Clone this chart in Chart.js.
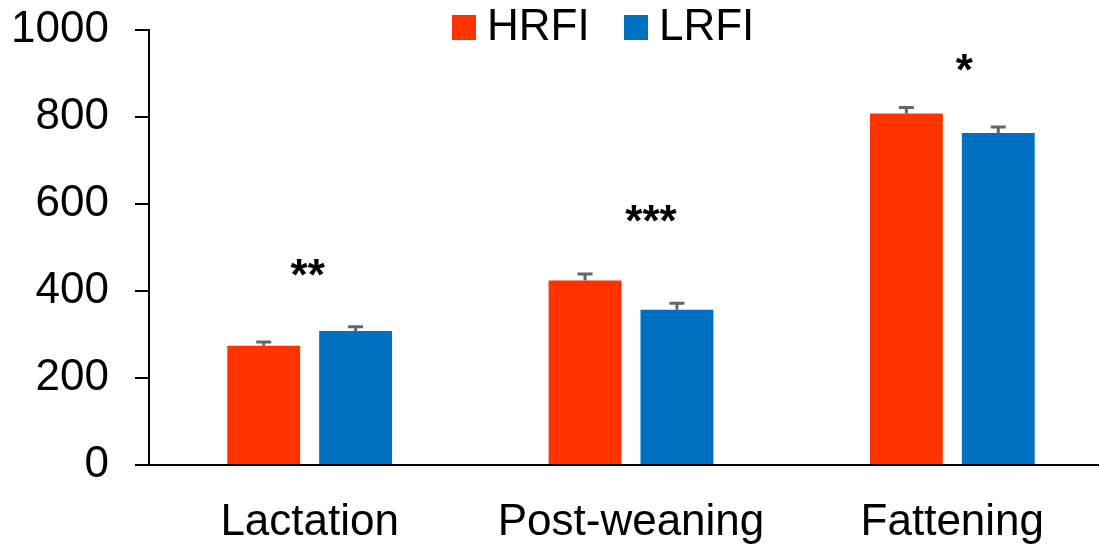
<!DOCTYPE html>
<html>
<head>
<meta charset="utf-8">
<script src="https://cdn.jsdelivr.net/npm/chart.js@4/dist/chart.umd.min.js"></script>
<style>
  html, body { margin: 0; padding: 0; background: #fff; overflow: hidden; }
  #wrap { width: 1113px; height: 544px; }
</style>
</head>
<body>
<div id="wrap"><canvas id="chart"></canvas></div>
<script>
// data
var categories = ["Lactation", "Post-weaning", "Fattening"];
var series_names = ["HRFI", "LRFI"];
var hrfi = [274, 424, 808];
var lrfi = [308, 357, 763];
var hrfi_err = [9, 15, 14];
var lrfi_err = [10, 15, 14];
var sig_marks = ["**", "***", "*"];
var sig_heights = [460, 584, 931];
var y_ticks = [0, 200, 400, 600, 800, 1000];

var FONT = "'Liberation Sans', Arial, sans-serif";

// error bars drawn from the scales
var errorBars = {
  id: "errorBars",
  afterDatasetsDraw: function(chart) {
    var ctx = chart.ctx;
    var y = chart.scales.y;
    var errs = [hrfi_err, lrfi_err];
    ctx.save();
    ctx.strokeStyle = "#666666";
    ctx.lineWidth = 3;
    chart.data.datasets.forEach(function(ds, i) {
      var meta = chart.getDatasetMeta(i);
      meta.data.forEach(function(bar, j) {
        var top = y.getPixelForValue(ds.data[j] + errs[i][j]);
        ctx.beginPath();
        ctx.moveTo(bar.x, bar.y);
        ctx.lineTo(bar.x, top);
        ctx.moveTo(bar.x - 7.5, top);
        ctx.lineTo(bar.x + 7.5, top);
        ctx.stroke();
      });
    });
    ctx.restore();
  }
};

// significance stars
var sigStars = {
  id: "sigStars",
  afterDatasetsDraw: function(chart) {
    var ctx = chart.ctx;
    var x = chart.scales.x, y = chart.scales.y;
    var nudge = [-2, 20, 12];
    ctx.save();
    ctx.fillStyle = "#000";
    ctx.font = "bold 44px " + FONT;
    ctx.textAlign = "center";
    ctx.textBaseline = "alphabetic";
    sig_marks.forEach(function(m, i) {
      ctx.fillText(m, x.getPixelForValue(i) + nudge[i], y.getPixelForValue(sig_heights[i]) + 25);
    });
    ctx.restore();
  }
};

// legend at the top, drawn by hand so it does not push the plot down
var topLegend = {
  id: "topLegend",
  afterDraw: function(chart) {
    var ctx = chart.ctx;
    var xs = [452, 624];
    ctx.save();
    ctx.font = "44px " + FONT;
    ctx.textBaseline = "middle";
    ctx.textAlign = "left";
    chart.data.datasets.forEach(function(ds, i) {
      ctx.fillStyle = ds.backgroundColor;
      ctx.fillRect(xs[i], 15, 24, 25);
      ctx.fillStyle = "#000";
      ctx.fillText(ds.label, xs[i] + 35, 28);
    });
    ctx.restore();
  }
};

var ctx = document.getElementById("chart");
var chart = new Chart(ctx, {
  type: "bar",
  data: {
    labels: categories,
    datasets: [
      { label: series_names[0], data: hrfi, backgroundColor: "#ff3300" },
      { label: series_names[1], data: lrfi, backgroundColor: "#0070c0" }
    ]
  },
  options: {
    responsive: true,
    maintainAspectRatio: false,
    animation: false,
    categoryPercentage: 0.572,
    barPercentage: 0.793,
    layout: { padding: { top: 30, right: 0, left: 0, bottom: 0 } },
    plugins: {
      legend: { display: false },
      tooltip: { enabled: false }
    },
    scales: {
      x: {
        grid: { display: false, drawTicks: false },
        border: { display: true, color: "#000", width: 2 },
        ticks: { color: "#000", font: { family: FONT, size: 44 }, padding: 31, maxRotation: 0 },
        afterFit: function(s) { s.height = 79; s.paddingLeft = 0; s.paddingRight = 0; }
      },
      y: {
        min: 0,
        max: 1000,
        afterBuildTicks: function(s) { s.ticks = y_ticks.map(function(v) { return { value: v }; }); },
        grid: { drawOnChartArea: false, drawTicks: true, tickLength: 14, color: "#000", lineWidth: 2 },
        border: { display: true, color: "#000", width: 2 },
        ticks: {
          color: "#000", font: { family: FONT, size: 44 }, padding: 26,
          callback: function(v) { return String(v); }
        },
        afterFit: function(s) { s.width = 149; s.paddingTop = 0; s.paddingBottom = 0; }
      }
    }
  },
  plugins: [errorBars, sigStars, topLegend]
});
</script>
</body>
</html>
